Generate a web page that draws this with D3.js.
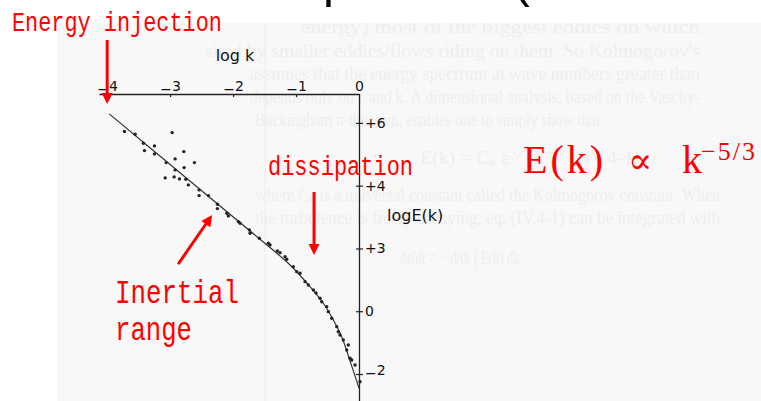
<!DOCTYPE html>
<html>
<head>
<meta charset="utf-8">
<script src="https://cdn.jsdelivr.net/npm/d3@7"></script>
<style>
  html, body { margin: 0; padding: 0; background: #ffffff; }
  svg { display: block; }
</style>
</head>
<body>
<svg id="chart" width="761" height="401"></svg>
<script>
// ---- data -------------------------------------------------------------
const logkTicks = [-4, -3, -2, -1, 0];
const logkTickLabels = ["−4", "−3", "−2", "−1", "0"];
const logETicks = [6, 4, 2, 0, -2];
const logETickLabels = ["+6", "+4", "+3", "0", "−2"];

// measured spectrum points (log k, log E)
const dotLogK = [-3.725, -3.556, -3.424, -3.408, -3.249, -3.249, -2.968, -2.783, -2.921, -3.063,
  -2.614, -2.778, -2.921, -3.079, -2.937, -2.852, -2.751, -2.710, -2.540, -2.540,
  -2.392, -2.249, -2.249, -2.100, -2.075, -1.916, -1.889, -1.741, -1.730, -1.583,
  -1.440, -1.413, -1.297, -1.254, -1.175, -1.148, -1.043, -0.989, -0.937, -0.857,
  -0.805, -0.725, -0.683, -0.619, -0.592, -0.513, -0.487, -0.433, -0.354, -0.329,
  -0.302, -0.249, -0.170, -0.195, -0.143, -0.116, -0.063, 0.016];
const dotLogE = [5.723, 5.640, 5.353, 5.117, 5.267, 5.012, 5.691, 5.085, 4.853, 4.735,
  4.735, 4.575, 4.502, 4.247, 4.279, 4.215, 4.206, 4.024, 3.865, 3.683,
  3.683, 3.409, 3.269, 3.122, 3.036, 2.854, 2.803, 2.590, 2.484, 2.325,
  2.166, 2.112, 1.920, 1.866, 1.739, 1.656, 1.420, 1.261, 1.210, 0.942,
  0.837, 0.677, 0.582, 0.413, 0.304, 0.145, -0.014, -0.225, -0.492, -0.652,
  -0.757, -0.916, -1.076, -1.235, -1.500, -1.554, -1.713, -2.245];

// fitted spectrum curve (log k, log E)
const fitLogK = [-3.968, -2.5, -1.5, -1.095, -0.778, -0.567, -0.408, -0.275, -0.143, 0];
const fitLogE = [6.287, 3.84, 2.173, 1.474, 0.782, 0.253, -0.279, -0.811, -1.58, -2.45];

// background page text (faint, printed on the scanned sheet)
const pageText = [
  "energy) most of the biggest eddies on which",
  "sited by smaller eddies/flows riding on them. So Kolmogorov's",
  "assumes that the energy spectrum at wave numbers greater than",
  "depends only on ε and k. A dimensional analysis, based on the Vaschy-",
  "Buckingham π-theorem, enables one to simply show that",
  "E(k) = C\u2096 ε²ᐟ³ k⁻⁵ᐟ³          (IV.4-1)",
  "where C\u2096 is a universal constant called the Kolmogorov constant. When",
  "the turbulence is freely decaying, eq. (IV.4-1) can be integrated with",
  "dε/dt = −  d/dt ∫ E(k) dk"
];
const pageTextX = [300, 205, 250, 250, 255, 420, 255, 255, 400];
const pageTextY = [33, 57, 80, 103, 126, 164, 201, 224, 264];
const pageTextW = [400, 495, 450, 450, 345, 220, 465, 465, 120];

// ---- layout -----------------------------------------------------------
const svg = d3.select("#chart");
const W = 761, H = 401;

const x = d3.scaleLinear().domain([-4.13, 0]).range([99, 359]);
const y = d3.scaleLinear().domain([-2.86, 6.92]).range([401, 94]);

// scanned sheet
svg.append("rect").attr("x", 57).attr("y", 23).attr("width", W - 57).attr("height", H - 23)
  .attr("fill", "#f8f8f8");
svg.append("line").attr("x1", 265).attr("x2", 265).attr("y1", 23).attr("y2", H)
  .attr("stroke", "#ebebeb").attr("stroke-width", 1);

svg.append("clipPath").attr("id", "sheet").append("rect")
  .attr("x", 57).attr("y", 23).attr("width", W - 57).attr("height", H - 23);

svg.append("g").attr("clip-path", "url(#sheet)")
  .selectAll("text").data(pageText).join("text")
  .attr("x", (d, i) => pageTextX[i])
  .attr("y", (d, i) => pageTextY[i])
  .attr("textLength", (d, i) => pageTextW[i])
  .attr("lengthAdjust", "spacingAndGlyphs")
  .attr("font-family", "Liberation Serif, serif")
  .attr("font-size", 19)
  .attr("fill", "#eeeeee")
  .text(d => d);

// slide title (only its lowest strokes fall inside the frame)
svg.append("text").attr("x", 71.5).attr("y", -3)
  .attr("font-family", "Liberation Sans, Arial, sans-serif")
  .attr("font-size", 49).attr("fill", "#000")
  .text("Turbulent Spectrum (1941 model)");

// ---- axes -------------------------------------------------------------
const axisFont = "DejaVu Sans, sans-serif";

function lowerMinus(sel) {
  sel.each(function () {
    const t = d3.select(this);
    const s = t.text();
    if (s.startsWith("−")) {
      t.text(null);
      t.append("tspan").attr("dy", 3).text("−");
      t.append("tspan").attr("dy", -3).text(s.slice(1));
    }
  });
}

const xAxis = d3.axisTop(x)
  .tickValues(logkTicks)
  .tickFormat((d, i) => logkTickLabels[i])
  .tickSizeInner(-3).tickSizeOuter(0).tickPadding(3);

const gx = svg.append("g").attr("transform", `translate(0,${y(6.92)})`).call(xAxis);
gx.select(".domain").attr("stroke", "#222").attr("stroke-width", 1.3);
gx.selectAll(".tick line").attr("stroke", "#222").attr("stroke-width", 1.2);
gx.selectAll(".tick text").attr("font-family", axisFont).attr("font-size", 14)
  .attr("fill", "#111").call(lowerMinus);

const yAxis = d3.axisRight(y)
  .tickValues(logETicks)
  .tickFormat((d, i) => logETickLabels[i])
  .tickSizeInner(4).tickSizeOuter(0).tickPadding(2);

const gy = svg.append("g").attr("transform", `translate(${x(0)},0)`).call(yAxis);
gy.select(".domain").attr("stroke", "#222").attr("stroke-width", 1.3);
gy.selectAll(".tick line").attr("x1", -3).attr("stroke", "#222").attr("stroke-width", 1.2);
gy.selectAll(".tick text").attr("font-family", axisFont).attr("font-size", 14)
  .attr("fill", "#111").call(lowerMinus);

svg.append("text").attr("x", 235).attr("y", 61).attr("text-anchor", "middle")
  .attr("font-family", axisFont).attr("font-size", 16).attr("fill", "#111")
  .text("log k");
svg.append("text").attr("x", 387).attr("y", 221)
  .attr("font-family", axisFont).attr("font-size", 16).attr("fill", "#111")
  .text("logE(k)");

// ---- spectrum ---------------------------------------------------------
const fitPts = fitLogK.map((k, i) => [k, fitLogE[i]]);
svg.append("path")
  .datum(fitPts)
  .attr("fill", "none").attr("stroke", "#333").attr("stroke-width", 1.2)
  .attr("d", d3.line().x(d => x(d[0])).y(d => y(d[1])).curve(d3.curveCatmullRom.alpha(0.5)));

svg.append("g").selectAll("circle")
  .data(dotLogK.map((k, i) => [k, dotLogE[i]]))
  .join("circle")
  .attr("cx", d => x(d[0])).attr("cy", d => y(d[1])).attr("r", 1.7)
  .attr("fill", "#222");

// ---- annotations ------------------------------------------------------
const red = "#ff0000";
const arrows = [
  { from: [-4, 8.64], to: [-4, 6.6] },          // energy injection
  { from: [-0.714, 3.8], to: [-0.714, 1.79] },  // dissipation
  { from: [-2.873, 1.50], to: [-2.333, 3.065] } // inertial range
];
arrows.forEach(a => {
  const x0 = x(a.from[0]), y0 = y(a.from[1]);
  const x1 = x(a.to[0]), y1 = y(a.to[1]);
  const len = Math.hypot(x1 - x0, y1 - y0);
  const ux = (x1 - x0) / len, uy = (y1 - y0) / len;
  const hl = 11, hw = 5.5;
  const bx = x1 - ux * hl, by = y1 - uy * hl;
  svg.append("line").attr("x1", x0).attr("y1", y0).attr("x2", bx + ux).attr("y2", by + uy)
    .attr("stroke", red).attr("stroke-width", 3);
  svg.append("path")
    .attr("d", `M${x1},${y1}L${bx - uy * hw},${by + ux * hw}L${bx + uy * hw},${by - ux * hw}Z`)
    .attr("fill", red);
});

const mono = "Liberation Mono, Courier New, monospace";
const notes = [
  { text: "Energy injection", x: 12, y: 31, size: 27, w: 210 },
  { text: "dissipation", x: 268, y: 175, size: 27, w: 145 },
  { text: "Inertial", x: 115, y: 303, size: 33, w: 124 },
  { text: "range", x: 115, y: 340, size: 33, w: 77 }
];
svg.append("g").selectAll("text").data(notes).join("text")
  .attr("x", d => d.x).attr("y", d => d.y)
  .attr("font-family", mono).attr("font-size", d => d.size)
  .attr("textLength", d => d.w).attr("lengthAdjust", "spacingAndGlyphs")
  .attr("fill", red)
  .text(d => d.text);

// scaling law
const serif = "Liberation Serif, DejaVu Serif, serif";
const law = svg.append("g").attr("fill", red).attr("font-family", serif);
law.append("text").attr("x", 523).attr("y", 173).attr("font-size", 40)
  .attr("letter-spacing", 3).text("E(k)");
law.append("text").attr("x", 628).attr("y", 173).attr("font-size", 36).text("∝");
law.append("text").attr("x", 682).attr("y", 173).attr("font-size", 40).text("k");
law.append("text").attr("x", 701).attr("y", 160).attr("font-size", 26)
  .attr("letter-spacing", 2).text("−5/3");
</script>
</body>
</html>
